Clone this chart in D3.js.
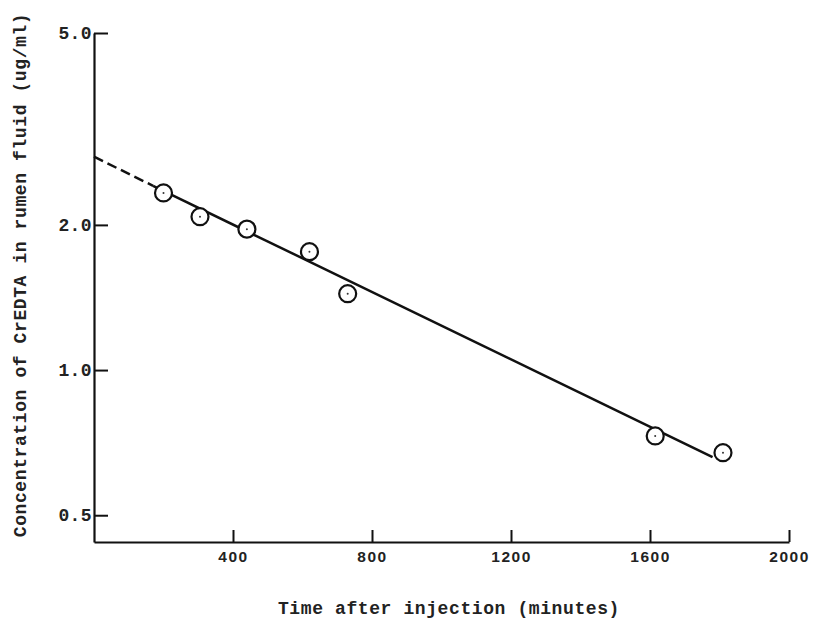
<!DOCTYPE html>
<html>
<head>
<meta charset="utf-8">
<script src="https://cdn.jsdelivr.net/npm/d3@7"></script>
<style>
  body { margin: 0; background: #fff; }
</style>
</head>
<body>
<svg id="chart" width="818" height="623"></svg>
<script>
// ------Data------
var timeMinutes = [200, 305, 440, 620, 730, 1615, 1810];
var concentration = [2.33, 2.08, 1.96, 1.76, 1.44, 0.73, 0.674];
// fitted line: dashed extrapolation then solid part
var fitDashedT = [0, 170];
var fitDashedC = [2.77, 2.41];
var fitSolidT = [170, 1780];
var fitSolidC = [2.41, 0.66];
var xTicks = [400, 800, 1200, 1600, 2000];
var yTicks = [0.5, 1.0, 2.0, 5.0];

var svg = d3.select("#chart");
var typeFont = "'Liberation Mono', 'Courier New', monospace";

// Scales
var x = d3.scaleLinear()
    .domain([0, 2000])
    .range([94, 789]);

var y = d3.scaleLog()
    .domain([0.44, 5])
    .range([542, 33]);

// X axis
var xAxis = svg.append("g")
    .attr("transform", "translate(0, " + y(0.44) + ")")
    .call(d3.axisBottom(x)
        .tickValues(xTicks)
        .tickSize(-12)
        .tickSizeOuter(0)
        .tickPadding(9)
        .tickFormat(d3.format("d")));
xAxis.select(".domain").attr("stroke-width", 2.2).attr("stroke", "#111");
xAxis.selectAll(".tick line").attr("stroke-width", 2).attr("stroke", "#111");
xAxis.selectAll(".tick text")
    .attr("font-family", "'Liberation Sans', Arial, sans-serif")
    .attr("font-size", "15.5px")
    .attr("font-weight", "bold")
    .attr("letter-spacing", "1.5px")
    .attr("fill", "#222");

// Y axis
var yAxis = svg.append("g")
    .attr("transform", "translate(" + x(0) + ", 0)")
    .call(d3.axisLeft(y)
        .tickValues(yTicks)
        .tickSize(-14)
        .tickSizeOuter(0)
        .tickPadding(2)
        .tickFormat(d3.format(".1f")));
yAxis.select(".domain").attr("stroke-width", 2.2).attr("stroke", "#111");
yAxis.selectAll(".tick line").attr("stroke-width", 2).attr("stroke", "#111");
yAxis.selectAll(".tick text")
    .attr("font-family", typeFont)
    .attr("font-size", "18px")
    .attr("font-weight", "bold")
    .attr("letter-spacing", "0.4px")
    .attr("fill", "#222");

// Fitted line
var line = d3.line()
    .x(function(d) { return x(d[0]); })
    .y(function(d) { return y(d[1]); });

svg.append("path")
    .datum(d3.zip(fitDashedT, fitDashedC))
    .attr("d", line)
    .attr("fill", "none")
    .attr("stroke", "#111")
    .attr("stroke-width", 2.5)
    .attr("stroke-dasharray", "10,5");

svg.append("path")
    .datum(d3.zip(fitSolidT, fitSolidC))
    .attr("d", line)
    .attr("fill", "none")
    .attr("stroke", "#111")
    .attr("stroke-width", 2.5);

// Points: open circles with a dot in the middle
var pts = d3.zip(timeMinutes, concentration);

svg.selectAll(".ptCircle")
    .data(pts)
    .enter()
    .append("circle")
    .attr("class", "ptCircle")
    .attr("cx", function(d) { return x(d[0]); })
    .attr("cy", function(d) { return y(d[1]); })
    .attr("r", 8.5)
    .attr("fill", "#fff")
    .attr("stroke", "#111")
    .attr("stroke-width", 2.2);

svg.selectAll(".ptDot")
    .data(pts)
    .enter()
    .append("circle")
    .attr("class", "ptDot")
    .attr("cx", function(d) { return x(d[0]); })
    .attr("cy", function(d) { return y(d[1]); })
    .attr("r", 1)
    .attr("fill", "#333");

// X label
svg.append("text")
    .attr("x", 449)
    .attr("y", 614)
    .attr("font-family", typeFont)
    .attr("font-size", "18px")
    .attr("font-weight", "bold")
    .attr("letter-spacing", "0.6px")
    .attr("text-anchor", "middle")
    .attr("fill", "#222")
    .text("Time after injection (minutes)");

// Y label
svg.append("text")
    .attr("x", 0)
    .attr("y", 0)
    .attr("font-family", typeFont)
    .attr("font-size", "18px")
    .attr("font-weight", "bold")
    .attr("letter-spacing", "0.6px")
    .attr("text-anchor", "middle")
    .attr("fill", "#222")
    .attr("transform", "translate(26, 275) rotate(-90)")
    .text("Concentration of CrEDTA in rumen fluid (ug/ml)");
</script>
</body>
</html>
